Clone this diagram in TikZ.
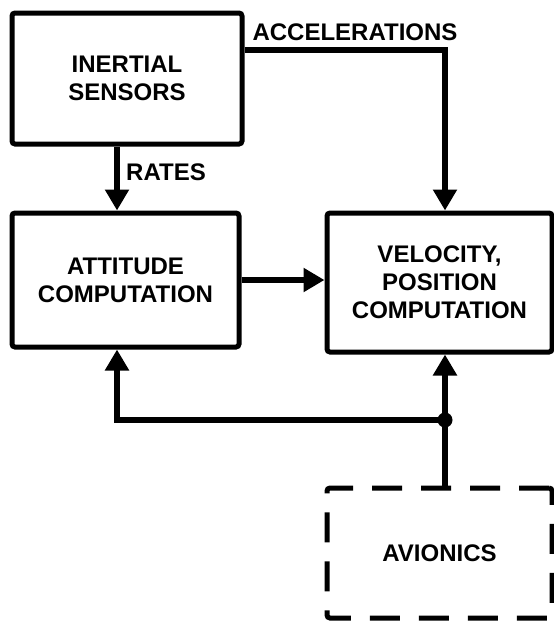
\documentclass[tikz,border=0pt]{standalone}
\usepackage{fontspec}
\setmainfont{Liberation Sans}
\usetikzlibrary{arrows.meta}
\begin{document}
\begin{tikzpicture}[x=1pt,y=1pt,
  lbl/.style={font=\fontsize{24}{28}\selectfont\bfseries, align=center},
  block/.style={lbl, draw, line width=5pt, rounded corners=3pt, inner sep=0pt},
  dashblock/.style={block, dash pattern=on 30pt off 19pt},
  flow/.style={line width=6pt, -{Triangle[length=21pt,width=23pt]}},
  wire/.style={line width=6pt}]
\useasboundingbox (0,0) rectangle (554,-622);

% blocks
\node[block, minimum width=230pt, minimum height=131pt] (ins) at (127,-78.5) {INERTIAL\\SENSORS};
\node[block, minimum width=227pt, minimum height=134pt] (att) at (125.5,-280) {ATTITUDE\\COMPUTATION};
\node[block, minimum width=225pt, minimum height=139pt] (vel) at (439.5,-282.5) {VELOCITY,\\POSITION\\COMPUTATION};
\node[dashblock, minimum width=225pt, minimum height=130pt] (avi) at (439.5,-553) {AVIONICS};

% routing points
\coordinate (acc) at (445,-50);
\coordinate (rx) at (117,0);
\coordinate (jn) at (445,-420);
\coordinate (fb) at (117,-420);

% signal labels
\node[lbl] (acclbl) at (355,-32) {ACCELERATIONS};
\node[lbl] (ratelbl) at (166,-172) {RATES};

% connectors
\draw[flow] (ins.south -| rx) -- (att.north -| rx);
\draw[flow] (ins.east |- acc) -- (acc) -- (vel.north -| acc);
\draw[flow] (att.east) -- (att.east -| vel.west);
\draw[flow] (avi.north -| jn) -- (vel.south -| jn);
\draw[flow] (jn) -- (fb) -- (att.south -| fb);
\fill (jn) circle (7.5pt);
\end{tikzpicture}
\end{document}
